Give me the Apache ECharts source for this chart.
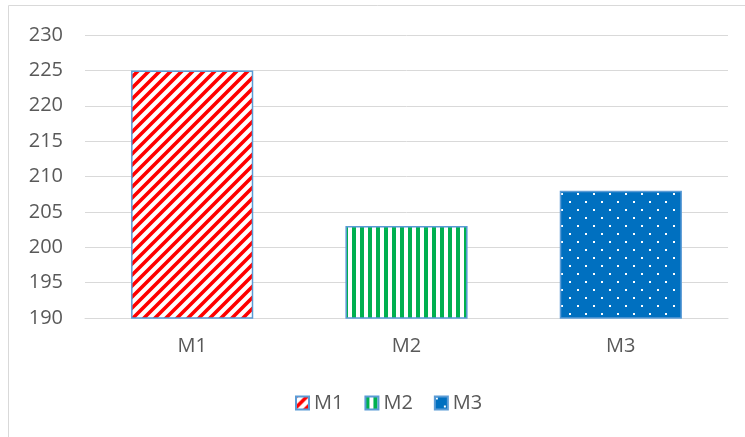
<!DOCTYPE html>
<html>
<head>
<meta charset="utf-8">
<script src="https://cdn.jsdelivr.net/npm/echarts@6/dist/echarts.min.js"></script>
<style>html,body{margin:0;padding:0;background:#fff}#c{width:745px;height:437px}</style>
</head>
<body>
<div id="c"></div>
<script>
const categories = ['M1', 'M2', 'M3'];
const seriesNames = ['M1', 'M2', 'M3'];
const values = [225, 203, 208];
const yMin = 190, yMax = 230, yStep = 5;

function tile(w, h, draw) {
  const c = document.createElement('canvas');
  c.width = w; c.height = h;
  const g = c.getContext('2d');
  draw(g, w, h);
  return c;
}
const diag = tile(11, 11, (g, w, h) => {
  g.fillStyle = '#fff'; g.fillRect(0, 0, w, h);
  g.strokeStyle = '#FF0000'; g.lineWidth = 3.6; g.lineCap = 'square';
  g.beginPath();
  g.moveTo(-2, h + 2); g.lineTo(w + 2, -2);
  g.moveTo(-2, 2); g.lineTo(2, -2);
  g.moveTo(w - 2, h + 2); g.lineTo(w + 2, h - 2);
  g.stroke();
});
const vert = tile(8, 8, (g, w, h) => {
  g.fillStyle = '#fff'; g.fillRect(0, 0, w, h);
  g.fillStyle = '#00B050'; g.fillRect(0, 0, 4, h);
});
const dots = tile(16, 16, (g, w, h) => {
  g.fillStyle = '#0070C0'; g.fillRect(0, 0, w, h);
  g.fillStyle = '#fff';
  g.fillRect(1, 1, 2, 2);
  g.fillRect(9, 9, 2, 2);
});
const patterns = [diag, vert, dots];

const chart = echarts.init(document.getElementById('c'));
const font = '"Open Sans", "Liberation Sans", sans-serif';
chart.setOption({
  animation: false,
  graphic: [{
    type: 'rect', silent: true,
    shape: { x: 8.5, y: 5.5, width: 900, height: 900 },
    style: { fill: 'none', stroke: '#D9D9D9', lineWidth: 1 }
  }],
  grid: { left: 85, right: 17, top: 35, bottom: 119 },
  legend: {
    bottom: 19, left: 290,
    itemWidth: 13, itemHeight: 13, itemGap: 21,
    icon: 'rect',
    textStyle: { fontFamily: font, fontSize: 20, color: '#595959' },
    data: seriesNames
  },
  xAxis: {
    type: 'category', data: categories,
    axisLine: { lineStyle: { color: '#D9D9D9', width: 1 } },
    axisTick: { show: false },
    axisLabel: { fontFamily: font, fontSize: 20, color: '#595959', margin: 18 }
  },
  yAxis: {
    type: 'value', min: yMin, max: yMax, interval: yStep,
    axisLine: { show: false }, axisTick: { show: false },
    splitLine: { lineStyle: { color: '#D9D9D9', width: 1 } },
    axisLabel: { fontFamily: font, fontSize: 20, color: '#595959', margin: 22 }
  },
  series: seriesNames.map((name, i) => ({
    name, type: 'bar', barGap: '-100%', barWidth: '57%',
    data: categories.map((c, j) => j === i ? values[i] : '-'),
    itemStyle: {
      color: { image: patterns[i], repeat: 'repeat' },
      borderColor: '#5B9BD5', borderWidth: 1.5
    }
  }))
});
</script>
</body>
</html>
